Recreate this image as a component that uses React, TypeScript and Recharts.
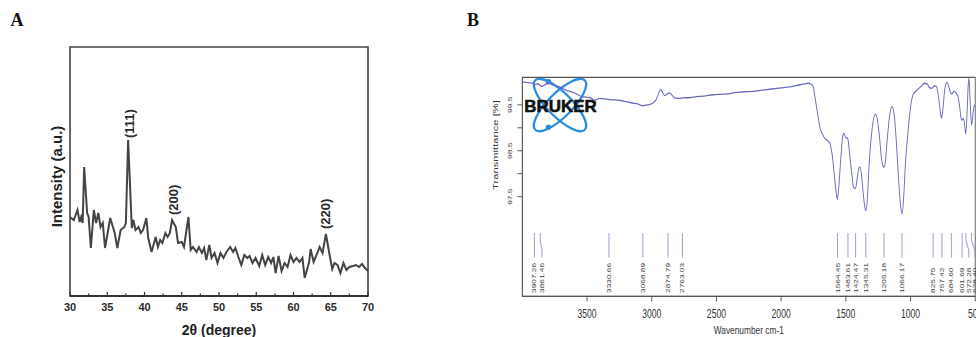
import React from 'react';
import { LineChart, Line, XAxis, YAxis, ReferenceArea, ReferenceDot } from 'recharts';

// ---------- Panel A : XRD ----------
const xrdAngle = [
  30, 30.5, 31, 31.3, 31.5, 31.7, 31.9, 32.3, 32.5, 32.8, 33.2, 33.5, 33.8, 34.1, 34.4, 34.7,
  35.4, 36, 36.35, 36.8, 37.3, 37.5, 37.8, 38.3, 38.5, 38.8, 39.2, 39.5, 39.8, 40.25, 40.5, 40.95,
  41.5, 41.8, 42.1, 42.4, 42.8, 43.1, 43.4, 43.7, 44.2, 44.5, 45, 45.3, 45.9, 46.2, 46.5, 47,
  47.3, 47.7, 48, 48.3, 48.7, 49, 49.4, 49.8, 50.2, 50.6, 51, 51.5, 51.9, 52.2, 52.6, 53,
  53.4, 53.8, 54.1, 54.5, 54.9, 55.4, 55.8, 56.2, 56.6, 57, 57.3, 57.6, 58, 58.4, 58.8, 59.2,
  59.6, 60, 60.4, 60.8, 61.2, 61.5, 62.1, 62.3, 62.7, 63.2, 63.5, 63.9, 64.35, 64.8, 65.2, 65.5,
  65.9, 66.3, 66.7, 67.1, 67.5, 68, 68.4, 68.8, 69.2, 69.6, 70,
];
const xrdIntensity = [
  79, 76, 86, 74, 79, 73, 129, 83, 79, 48, 86, 73, 83, 69, 73, 48,
  78, 63, 48, 66, 69, 73, 156, 68, 76, 66, 69, 63, 66, 78, 58, 44,
  59, 49, 56, 53, 63, 59, 63, 76, 69, 53, 54, 49, 79, 46, 49, 44,
  49, 43, 48, 36, 51, 38, 43, 33, 43, 38, 44, 49, 44, 48, 39, 31,
  41, 38, 40, 33, 38, 30, 41, 31, 39, 33, 39, 23, 40, 25, 33, 29,
  41, 34, 38, 34, 38, 18, 34, 47, 34, 43, 49, 43, 62, 43, 27, 33,
  31, 23, 33, 26, 29, 30, 31, 29, 32, 28, 25,
];
const xrdTicks = [30, 32.5, 35, 37.5, 40, 42.5, 45, 47.5, 50, 52.5, 55, 57.5, 60, 62.5, 65, 67.5, 70];
const xrdPeakLabels = ['(111)', '(200)', '(220)'];
const xrdPeakAngle = [38.05, 43.87, 64.23];
const xrdPeakLabelBase = [158, 81, 67];

// ---------- Panel B : FTIR ----------
const ftirWavenumber = [
  4000, 3950, 3917, 3904, 3880, 3852, 3801, 3760, 3720, 3672, 3620, 3582, 3543, 3479, 3441, 3402,
  3340, 3299, 3250, 3196, 3150, 3110, 3067, 3030, 2990, 2965, 2951, 2940, 2930, 2915, 2900, 2880,
  2861, 2840, 2822, 2790, 2758, 2700, 2655, 2600, 2526, 2474, 2410, 2345, 2300, 2250, 2200, 2150,
  2088, 2000, 1900, 1830, 1792, 1770, 1753, 1735, 1715, 1702, 1680, 1663, 1640, 1624, 1605, 1590,
  1575, 1566, 1555, 1540, 1525, 1516, 1500, 1490, 1483, 1470, 1450, 1440, 1425, 1410, 1400, 1392,
  1380, 1365, 1350, 1345, 1335, 1320, 1300, 1285, 1269, 1255, 1240, 1225, 1210, 1205, 1195, 1180,
  1160, 1143, 1125, 1110, 1095, 1080, 1066, 1055, 1040, 1020, 1000, 981, 950, 920, 890, 870,
  855, 838, 815, 800, 785, 770, 761, 750, 735, 718, 705, 690, 679, 665, 651, 640,
  633, 620, 610, 603, 590, 580, 573, 562, 555, 548, 540, 528, 518, 510, 500,
];
const ftirTransmittance = [
  100.0, 99.98, 99.97, 99.94, 99.96, 99.9, 99.97, 99.93, 99.9, 99.83, 99.78, 99.74, 99.68, 99.66, 99.6, 99.64,
  99.62, 99.61, 99.6, 99.57, 99.54, 99.52, 99.48, 99.5, 99.54, 99.62, 99.72, 99.8, 99.83, 99.76, 99.7, 99.74,
  99.76, 99.7, 99.65, 99.64, 99.65, 99.66, 99.68, 99.69, 99.72, 99.73, 99.74, 99.77, 99.78, 99.79, 99.8, 99.82,
  99.84, 99.87, 99.91, 99.95, 99.97, 99.95, 99.9, 99.6, 99.25, 99.03, 98.86, 98.77, 98.72, 98.66, 98.4, 98.0,
  97.6, 97.44, 97.7, 98.3, 98.8, 98.88, 98.78, 98.78, 98.74, 98.4, 97.9, 97.7, 97.68, 97.95, 98.12, 98.15,
  98.0, 97.55, 97.22, 97.19, 97.4, 98.2, 98.9, 99.2, 99.3, 99.15, 98.8, 98.35, 98.15, 98.14, 98.25, 98.75,
  99.3, 99.46, 99.25, 98.7, 98.0, 97.4, 97.12, 97.4, 98.2, 98.9, 99.45, 99.72, 99.82, 99.9, 99.97, 99.95,
  99.88, 99.86, 99.91, 99.9, 99.7, 99.35, 99.21, 99.4, 99.85, 99.99, 99.9, 99.76, 99.74, 99.8, 99.77, 99.72,
  99.68, 99.45, 99.22, 99.17, 99.2, 99.0, 98.87, 99.4, 99.9, 100.08, 99.6, 99.06, 99.3, 99.46, 99.5,
];
const ftirPeaks = [
  3907.26, 3861.46, 3330.66, 3068.89, 2874.79, 2763.03, 1564.45, 1483.61, 1424.47,
  1345.31, 1205.18, 1066.17, 825.75, 757.42, 684.6, 601.69, 572.28, 528.4,
];
const ftirPeakLabels = [
  '3907.26', '3861.46', '3330.66', '3068.89', '2874.79', '2763.03', '1564.45', '1483.61', '1424.47',
  '1345.31', '1205.18', '1066.17', '825.75', '757.42', '684.60', '601.69', '572.28', '528.40',
];
const ftirXTicks = [3500, 3000, 2500, 2000, 1500, 1000, 500];
const ftirYTicks = [97.5, 98, 98.5, 99, 99.5];
const ftirYLabelled = [97.5, 98.5, 99.5];

// ---------- layout constants ----------
const SANS = '"Liberation Sans", Arial, Helvetica, sans-serif';
const SX = 0.72; // horizontal compression of panel B
const B_LEFT = 468;
const Y_MIN = 95.33;
const Y_MAX = 100.1;
const MARK_TOP = 96.71;
const labelShift: Record<string, number> = { '3861.46': 2.4, '572.28': 4, '528.40': 4.5 };

const xrdData = xrdAngle.map((a, i) => ({ a, v: xrdIntensity[i] }));
const ftirData = ftirWavenumber.map((w, i) => ({ w, t: ftirTransmittance[i] }));

const XrdTick = (p: any) => {
  const { x, y, payload } = p;
  const v = payload.value as number;
  const major = v % 5 === 0;
  return (
    <g>
      <line x1={x} x2={x} y1={y} y2={y - (major ? 4 : 2.5)} stroke="#333" strokeWidth={1.2} />
      {major && (
        <text x={x} y={y + 11} textAnchor="middle" dominantBaseline="central" fontFamily={SANS}
          fontWeight="bold" fontSize={11} fill="#2a2a2a">{v}</text>
      )}
    </g>
  );
};

const XrdXTitle = (p: any) => {
  const vb = p.viewBox || { x: 70, y: 296, width: 298, height: 41 };
  return (
    <text x={vb.x + vb.width / 2} y={vb.y + 34} textAnchor="middle" dominantBaseline="central"
      fontFamily={SANS} fontWeight="bold" fontSize={14} fill="#222">2θ (degree)</text>
  );
};

const XrdYTitle = (p: any) => {
  const vb = p.viewBox || { x: 42, y: 47, width: 28, height: 249 };
  const cx = vb.x + 14;
  const cy = vb.y + vb.height / 2 + 5;
  return (
    <text transform={`translate(${cx},${cy}) rotate(-90)`} textAnchor="middle" dominantBaseline="central"
      fontFamily={SANS} fontWeight="bold" fontSize={15} fill="#222">Intensity (a.u.)</text>
  );
};

const PeakText = (label: string) => (p: any) => {
  const { cx, cy } = p;
  return (
    <text transform={`translate(${cx},${cy}) rotate(-90)`} textAnchor="start" dominantBaseline="central"
      fontFamily={SANS} fontWeight="bold" fontSize={13} fill="#2a2a2a">{label}</text>
  );
};

const FtirXTick = (p: any) => {
  const { x, y, payload } = p;
  return (
    <g>
      <line x1={x} x2={x} y1={y} y2={y + 5} stroke="#444" strokeWidth={1} />
      <text x={x} y={y + 18} textAnchor="middle" dominantBaseline="central" fontFamily={SANS}
        fontSize={12} fill="#333">{payload.value}</text>
    </g>
  );
};

const FtirYTick = (p: any) => {
  const { x, y, payload } = p;
  const v = payload.value as number;
  return (
    <g>
      <line x1={x} x2={x - 6.9} y1={y} y2={y} stroke="#444" strokeWidth={1} />
      {ftirYLabelled.includes(v) && (
        <text transform={`translate(${x - 17.2},${y}) rotate(-90)`} textAnchor="middle"
          dominantBaseline="central" fontFamily={SANS} fontSize={8.4} fill="#333">{v.toFixed(1)}</text>
      )}
    </g>
  );
};

const FtirXTitle = (p: any) => {
  const vb = p.viewBox || { x: 75.5, y: 296, width: 629, height: 41 };
  return (
    <text x={vb.x + vb.width / 2} y={vb.y + 33.6} textAnchor="middle" dominantBaseline="central"
      fontFamily={SANS} fontSize={11.6} fill="#333">Wavenumber cm-1</text>
  );
};

const FtirYTitle = (p: any) => {
  const vb = p.viewBox || { x: 0, y: 77.3, width: 75.5, height: 218.7 };
  const cx = vb.x + vb.width / 2;
  const cy = vb.y + 67.7;
  return (
    <text transform={`translate(${cx},${cy}) rotate(-90)`} textAnchor="middle" dominantBaseline="central"
      fontFamily={SANS} fontSize={11.2} fill="#333">Transmittance [%]</text>
  );
};

const PeakMark = (label: string) => (p: any) => {
  const { cx, cy } = p;
  const d = labelShift[label] || 0;
  return (
    <g>
      <path d={`M${cx},${cy} v8 l${d},9 v7.6`} stroke="#9a9acb" strokeWidth={1.3} fill="none" />
      <text transform={`translate(${cx + d},${cy + 60}) rotate(-90)`} textAnchor="start"
        dominantBaseline="central" fontFamily={SANS} fontSize={8.3} fill="#333">{label}</text>
    </g>
  );
};

export default function App() {
  return (
    <div style={{ position: 'absolute', left: 0, top: 0, width: 976, height: 337, overflow: 'hidden', background: '#fff' }}>
      {/* Panel A */}
      <div style={{ position: 'absolute', left: 0, top: 0 }}>
        <LineChart width={380} height={337} data={xrdData} margin={{ top: 47, right: 12, left: 42, bottom: 0 }}>
          <ReferenceArea x1={30} x2={70} y1={0} y2={249} fill="none" stroke="#444" strokeWidth={1.6} ifOverflow="visible" />
          <XAxis dataKey="a" type="number" domain={[30, 70]} ticks={xrdTicks} interval={0} height={41}
            allowDataOverflow axisLine={{ stroke: '#333', strokeWidth: 2 }} tickLine={false}
            tickSize={0} tickMargin={0} tick={<XrdTick />} label={<XrdXTitle />} />
          <YAxis type="number" domain={[0, 249]} width={28} allowDataOverflow tick={false} axisLine={false}
            tickLine={false} label={<XrdYTitle />} />
          <Line type="linear" dataKey="v" stroke="#444" strokeWidth={2} dot={false} isAnimationActive={false} />
          {xrdPeakLabels.map((lab, i) => (
            <ReferenceDot key={lab} x={xrdPeakAngle[i]} y={xrdPeakLabelBase[i]} r={0} shape={PeakText(lab)} />
          ))}
        </LineChart>
      </div>

      {/* Bruker logo (behind spectrum) */}
      <svg width={976} height={337} style={{ position: 'absolute', left: 0, top: 0 }}>
        <g fill="none" stroke="#2b8de0" strokeWidth={2.3}>
          <ellipse cx={560} cy={105} rx={35} ry={12} transform="rotate(45 560 105)" />
          <ellipse cx={560} cy={105} rx={35} ry={12} transform="rotate(-45 560 105)" />
        </g>
        <circle cx={548.5} cy={81.8} r={2.7} fill="#2b8de0" />
        <circle cx={548.5} cy={127.2} r={2.7} fill="#2b8de0" />
        <text x={524.3} y={111.7} fontFamily={SANS} fontWeight="bold" fontSize={17} fill="#111"
          stroke="#111" strokeWidth={0.6} textLength={72.4} lengthAdjust="spacingAndGlyphs">BRUKER</text>
      </svg>

      {/* Panel B */}
      <div style={{ position: 'absolute', left: B_LEFT, top: 0, transform: `scaleX(${SX})`, transformOrigin: '0 0' }}>
        <LineChart width={760} height={337} data={ftirData} margin={{ top: 77.3, right: 55.5, left: 0, bottom: 0 }}>
          <ReferenceArea x1={500} x2={4000} y1={Y_MIN} y2={Y_MAX} fill="none" stroke="#555" strokeWidth={1.2} ifOverflow="visible" />
          <XAxis dataKey="w" type="number" domain={[500, 4000]} reversed ticks={ftirXTicks} interval={0}
            height={40.7} allowDataOverflow axisLine={{ stroke: '#555' }} tickLine={false} tickSize={0}
            tickMargin={0} tick={<FtirXTick />} label={<FtirXTitle />} />
          <YAxis type="number" domain={[Y_MIN, Y_MAX]} width={75.5} ticks={ftirYTicks} interval={0}
            allowDataOverflow axisLine={{ stroke: '#555' }} tickLine={false} tickSize={0} tickMargin={0}
            tick={<FtirYTick />} label={<FtirYTitle />} />
          <Line type="monotone" dataKey="t" stroke="#6a6ac0" strokeWidth={1.3} dot={false} isAnimationActive={false} />
          {ftirPeaks.map((w, i) => (
            <ReferenceDot key={ftirPeakLabels[i]} x={w} y={MARK_TOP} r={0} shape={PeakMark(ftirPeakLabels[i])} />
          ))}
        </LineChart>
      </div>

      {/* Panel letters */}
      <svg width={976} height={40} style={{ position: 'absolute', left: 0, top: 0 }}>
        <text x={10.5} y={26} fontFamily='"Liberation Serif", "Times New Roman", serif' fontWeight="bold" fontSize={18} fill="#111">A</text>
        <text x={467} y={26} fontFamily='"Liberation Serif", "Times New Roman", serif' fontWeight="bold" fontSize={18} fill="#111">B</text>
      </svg>
    </div>
  );
}
